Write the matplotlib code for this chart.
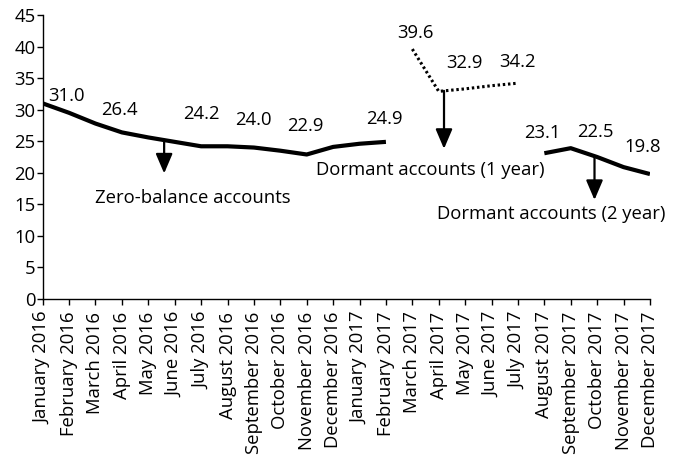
import matplotlib
matplotlib.use("Agg")
import matplotlib.pyplot as plt
import numpy as np

plt.rcParams['font.family'] = ['Open Sans', 'DejaVu Sans']
FS = 13.3

# month categories for the x axis
months = ['January 2016', 'February 2016', 'March 2016', 'April 2016', 'May 2016',
          'June 2016', 'July 2016', 'August 2016', 'September 2016', 'October 2016',
          'November 2016', 'December 2016', 'January 2017', 'February 2017',
          'March 2017', 'April 2017', 'May 2017', 'June 2017', 'July 2017',
          'August 2017', 'September 2017', 'October 2017', 'November 2017',
          'December 2017']

# Zero-balance accounts: January 2016 .. February 2017
zero_idx = list(range(0, 14))
zero_vals = [31.0, 29.5, 27.8, 26.4, 25.6, 24.9, 24.2, 24.2, 24.0, 23.5, 22.9, 24.1, 24.6, 24.9]

# Dormant accounts (1 year): March 2017 .. July 2017
dorm1_idx = [14, 15, 16, 17, 18]
dorm1_vals = [39.6, 32.9, 33.3, 33.8, 34.2]

# Dormant accounts (2 year): August 2017 .. December 2017
dorm2_idx = [19, 20, 21, 22, 23]
dorm2_vals = [23.1, 23.9, 22.5, 20.9, 19.8]

# which points get a value label
zero_lbl = [0, 3, 6, 8, 10, 13]
dorm1_lbl = [14, 15, 18]
dorm2_lbl = [19, 21, 23]

fig = plt.figure(figsize=(6.82, 4.62), dpi=100)
ax = fig.add_axes([0.0626, 0.3528, 0.8904, 0.6147])

ax.plot(zero_idx, zero_vals, color='black', lw=3, solid_capstyle='butt', solid_joinstyle='round')
ax.plot(dorm1_idx, dorm1_vals, color='black', lw=2.2, ls=(0, (0.8, 0.9)), dash_capstyle='butt')
ax.plot(dorm2_idx, dorm2_vals, color='black', lw=3, solid_capstyle='butt', solid_joinstyle='round')

# label offsets in pixels (dx, dy to baseline)
offsets = {0: (24, 2), 3: (-2, 17), 6: (0, 27), 8: (0, 23), 10: (-1, 23), 13: (-2, 18),
           14: (3, 11), 15: (26, 23), 18: (0, 16),
           19: (-2, 15), 21: (-2, 20), 23: (-7, 22)}

def put_labels(idx, vals, which):
    for i, v in zip(idx, vals):
        if i in which:
            dx, dy = offsets[i]
            ax.annotate(f"{v:.1f}", (i, v), xytext=(dx, dy), textcoords='offset pixels',
                        ha='center', va='baseline', fontsize=FS)

put_labels(zero_idx, zero_vals, zero_lbl)
put_labels(dorm1_idx, dorm1_vals, dorm1_lbl)
put_labels(dorm2_idx, dorm2_vals, dorm2_lbl)

arrow = dict(arrowstyle='-|>,head_length=0.75,head_width=0.32', lw=1.6, color='black',
             mutation_scale=16, shrinkA=0, shrinkB=0)

# series name callouts
ax.annotate('', xy=(4.6, 19.9), xytext=(4.6, np.interp(4.6, zero_idx, zero_vals)), arrowprops=arrow)
ax.text(5.7, 16.0, 'Zero-balance accounts', ha='center', va='center', fontsize=FS)

ax.annotate('', xy=(15.2, 23.8), xytext=(15.2, np.interp(15.2, dorm1_idx, dorm1_vals)), arrowprops=arrow)
ax.text(14.67, 20.4, 'Dormant accounts (1 year)', ha='center', va='center', fontsize=FS)

ax.annotate('', xy=(20.9, 15.7), xytext=(20.9, np.interp(20.9, dorm2_idx, dorm2_vals)), arrowprops=arrow)
ax.text(19.25, 13.5, 'Dormant accounts (2 year)', ha='center', va='center', fontsize=FS)

ax.set_xlim(0, 23)
ax.set_ylim(0, 45)
ax.set_yticks(np.arange(0, 50, 5))
ax.set_xticks(range(len(months)))
ax.set_xticklabels(months, rotation=90, fontsize=FS)
ax.tick_params(axis='y', labelsize=FS, length=4, width=1, pad=1)
ax.tick_params(axis='x', length=4, width=1, pad=5)
for s in ['top', 'right']:
    ax.spines[s].set_visible(False)
for s in ['left', 'bottom']:
    ax.spines[s].set_linewidth(1)

fig.savefig('out.png', dpi=100)
